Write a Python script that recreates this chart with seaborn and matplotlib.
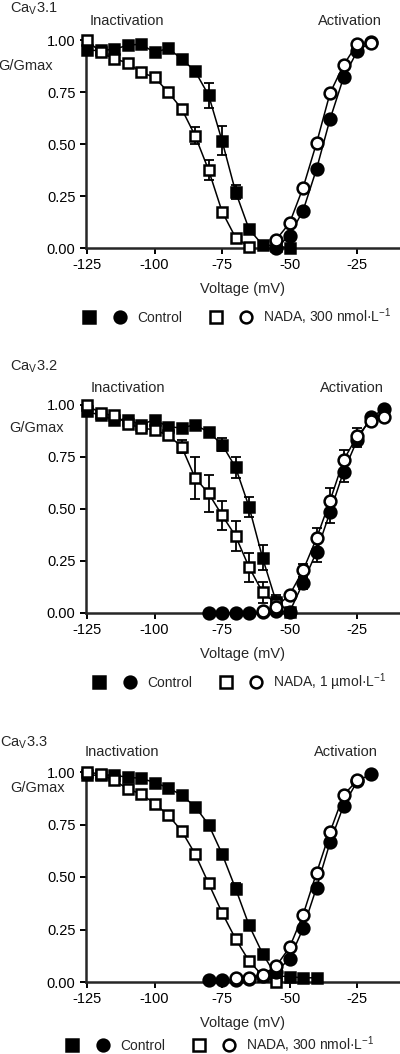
import matplotlib

matplotlib.use("Agg")
import matplotlib.pyplot as plt
import numpy as np
import pandas as pd
import seaborn as sns
from matplotlib.legend_handler import HandlerTuple
from matplotlib.lines import Line2D
from matplotlib.ticker import FormatStrFormatter

# ---------------- data (G/Gmax) ----------------
# Cav3.1
v_inact_31_ctrl = list(range(-125, -45, 5))
g_inact_31_ctrl = [0.95, 0.95, 0.955, 0.975, 0.98, 0.94, 0.96, 0.91, 0.85,
                   0.735, 0.515, 0.27, 0.09, 0.015, 0.01, 0.0]
e_inact_31_ctrl = [0, 0, 0, 0, 0, 0, 0, 0, 0, 0.06, 0.07, 0.035, 0, 0, 0, 0]
v_inact_31_nada = list(range(-125, -60, 5))
g_inact_31_nada = [1.0, 0.94, 0.91, 0.89, 0.845, 0.82, 0.75, 0.67, 0.54,
                   0.375, 0.175, 0.05, 0.005]
e_inact_31_nada = [0, 0, 0, 0, 0, 0, 0, 0, 0.04, 0.05, 0, 0, 0]
v_act_31_ctrl = list(range(-55, -15, 5))
g_act_31_ctrl = [0.0, 0.06, 0.18, 0.38, 0.62, 0.82, 0.945, 0.99]
v_act_31_nada = list(range(-55, -15, 5))
g_act_31_nada = [0.04, 0.12, 0.29, 0.505, 0.745, 0.88, 0.98, 0.985]

# Cav3.2
v_inact_32_ctrl = list(range(-125, -45, 5))
g_inact_32_ctrl = [0.97, 0.95, 0.93, 0.93, 0.905, 0.93, 0.895, 0.89, 0.905,
                   0.87, 0.81, 0.70, 0.51, 0.265, 0.055, 0.005]
e_inact_32_ctrl = [0, 0, 0, 0, 0, 0, 0, 0, 0, 0, 0.03, 0.05, 0.05, 0.06, 0.03, 0]
v_inact_32_nada = list(range(-125, -50, 5))
g_inact_32_nada = [1.0, 0.96, 0.95, 0.91, 0.89, 0.88, 0.855, 0.80, 0.65,
                   0.575, 0.47, 0.37, 0.22, 0.10, 0.045]
e_inact_32_nada = [0, 0, 0, 0, 0, 0, 0, 0.03, 0.10, 0.09, 0.07, 0.07, 0.07,
                   0.05, 0.03]
v_act_32_ctrl = list(range(-80, -10, 5))
g_act_32_ctrl = [0.0, 0.0, 0.0, 0.0, 0.005, 0.01, 0.005, 0.145, 0.295, 0.485,
                 0.68, 0.83, 0.94, 0.98]
e_act_32_ctrl = [0, 0, 0, 0, 0, 0, 0, 0.03, 0.05, 0.05, 0.05, 0.03, 0, 0]
v_act_32_nada = list(range(-60, -10, 5))
g_act_32_nada = [0.01, 0.03, 0.087, 0.205, 0.36, 0.54, 0.735, 0.85, 0.925, 0.94]
e_act_32_nada = [0, 0, 0, 0.03, 0.05, 0.06, 0.05, 0.04, 0, 0]

# Cav3.3
v_inact_33_ctrl = list(range(-125, -35, 5))
g_inact_33_ctrl = [0.985, 0.985, 0.985, 0.975, 0.97, 0.95, 0.925, 0.89, 0.835,
                   0.75, 0.61, 0.445, 0.27, 0.135, 0.03, 0.025, 0.02, 0.02]
e_inact_33_ctrl = [0, 0, 0, 0, 0, 0, 0, 0, 0, 0, 0.02, 0.025, 0, 0, 0, 0, 0, 0]
v_inact_33_nada = list(range(-125, -50, 5))
g_inact_33_nada = [1.0, 0.99, 0.96, 0.92, 0.895, 0.85, 0.795, 0.72, 0.61,
                   0.47, 0.33, 0.205, 0.10, 0.03, 0.0]
e_inact_33_nada = [0, 0, 0, 0, 0, 0, 0, 0, 0, 0.02, 0.02, 0, 0, 0, 0]
v_act_33_ctrl = list(range(-80, -15, 5))
g_act_33_ctrl = [0.01, 0.01, 0.01, 0.015, 0.03, 0.05, 0.11, 0.255, 0.45,
                 0.665, 0.84, 0.955, 0.99]
v_act_33_nada = list(range(-70, -20, 5))
g_act_33_nada = [0.02, 0.02, 0.035, 0.075, 0.165, 0.32, 0.52, 0.715, 0.89, 0.96]

x_ticks = [-125, -100, -75, -50, -25]
y_ticks = [0.0, 0.25, 0.5, 0.75, 1.0]

# ---------------- style ----------------
sns.set_style("ticks")
plt.rcParams["font.family"] = ["Liberation Sans", "DejaVu Sans"]
plt.rcParams["mathtext.fontset"] = "custom"
plt.rcParams["mathtext.rm"] = "Liberation Sans"
plt.rcParams["mathtext.it"] = "Liberation Sans:italic"
plt.rcParams["axes.unicode_minus"] = False
FS = 10.5
LEG_FS = 10
plt.rcParams["font.size"] = FS

W, H = 400, 1054
fig = plt.figure(figsize=(W / 100, H / 100), dpi=100)


def fx(px):
    return px / W


def fy(py):
    return 1 - py / H


def draw_series(ax, v, g, err, marker, filled, z):
    df = pd.DataFrame({"v": v, "g": g})
    if err is not None:
        e = np.array(err, dtype=float)
        m = e > 0
        ax.errorbar(np.array(v)[m], np.array(g)[m], yerr=e[m], fmt="none",
                    ecolor="black", elinewidth=1.3, capsize=3.5, capthick=1.3,
                    zorder=z - 1, clip_on=False)
    sns.lineplot(data=df, x="v", y="g", ax=ax, color="black", lw=1.1,
                 marker=marker, markersize=7.5 if marker == "s" else 8.5,
                 markerfacecolor="black" if filled else "white",
                 markeredgecolor="black", markeredgewidth=1.8,
                 clip_on=False, zorder=z)


panels = [
    dict(name="Ca$_\\mathregular{V}$3.1", top=40, bottom=248, title_xy=(10, 13),
         head_y=21, gg_xy=(53, 66), inact_x=127, act_x=350, leg_xy=(74, 317),
         conc="NADA, 300 nmol·L$^{-1}$",
         data=[(v_inact_31_ctrl, g_inact_31_ctrl, e_inact_31_ctrl, "s", True),
               (v_inact_31_nada, g_inact_31_nada, e_inact_31_nada, "s", False),
               (v_act_31_ctrl, g_act_31_ctrl, None, "o", True),
               (v_act_31_nada, g_act_31_nada, None, "o", False)]),
    dict(name="Ca$_\\mathregular{V}$3.2", top=405, bottom=613, title_xy=(10, 371),
         head_y=388, gg_xy=(64, 428), inact_x=128, act_x=352, leg_xy=(84, 682),
         conc="NADA, 1 µmol·L$^{-1}$",
         data=[(v_inact_32_ctrl, g_inact_32_ctrl, e_inact_32_ctrl, "s", True),
               (v_inact_32_nada, g_inact_32_nada, e_inact_32_nada, "s", False),
               (v_act_32_ctrl, g_act_32_ctrl, e_act_32_ctrl, "o", True),
               (v_act_32_nada, g_act_32_nada, e_act_32_nada, "o", False)]),
    dict(name="Ca$_\\mathregular{V}$3.3", top=772, bottom=982, title_xy=(0, 747),
         head_y=752, gg_xy=(65, 788), inact_x=122, act_x=346, leg_xy=(57, 1045),
         conc="NADA, 300 nmol·L$^{-1}$",
         data=[(v_inact_33_ctrl, g_inact_33_ctrl, e_inact_33_ctrl, "s", True),
               (v_inact_33_nada, g_inact_33_nada, e_inact_33_nada, "s", False),
               (v_act_33_ctrl, g_act_33_ctrl, None, "o", True),
               (v_act_33_nada, g_act_33_nada, None, "o", False)]),
]

for p in panels:
    left, right = 86, 400
    ax = fig.add_axes([fx(left), fy(p["bottom"]), (right - left) / W,
                       (p["bottom"] - p["top"]) / H])
    for i, (v, g, e, mk, filled) in enumerate(p["data"]):
        draw_series(ax, v, g, e, mk, filled, z=3 + 2 * i)

    ax.set_xlim(-125.4, -9.1)
    ax.set_ylim(0, 1.0)
    ax.set_xticks(x_ticks)
    ax.set_yticks(y_ticks)
    ax.yaxis.set_major_formatter(FormatStrFormatter("%.2f"))
    ax.set_xlabel("Voltage (mV)", fontsize=FS, labelpad=7)
    ax.set_ylabel("")
    sns.despine(ax=ax)
    for s in ["left", "bottom"]:
        ax.spines[s].set_linewidth(1.8)
        ax.spines[s].set_zorder(2)
    ax.tick_params(direction="out", length=4.5, width=1.4, pad=3,
                   labelsize=FS, colors="black")
    ax.patch.set_alpha(0)

    fig.text(fx(p["title_xy"][0]), fy(p["title_xy"][1]), p["name"],
             fontsize=FS, ha="left", va="baseline")
    fig.text(fx(p["inact_x"]), fy(p["head_y"]), "Inactivation", fontsize=FS,
             ha="center", va="center")
    fig.text(fx(p["act_x"]), fy(p["head_y"]), "Activation", fontsize=FS,
             ha="center", va="center")
    fig.text(fx(p["gg_xy"][0]), fy(p["gg_xy"][1]), "G/Gmax", fontsize=FS,
             ha="right", va="center")

    mk = dict(linestyle="none", markeredgecolor="black", markeredgewidth=1.8,
              markersize=8.5)
    h_ctrl = (Line2D([], [], marker="s", markerfacecolor="black", **mk),
              Line2D([], [], marker="o", markerfacecolor="black", **mk))
    h_nada = (Line2D([], [], marker="s", markerfacecolor="white", **mk),
              Line2D([], [], marker="o", markerfacecolor="white", **mk))
    ax.legend([h_ctrl, h_nada], ["Control", p["conc"]], ncol=2,
              loc="center left",
              bbox_to_anchor=(fx(p["leg_xy"][0]), fy(p["leg_xy"][1])),
              bbox_transform=fig.transFigure, frameon=False, fontsize=LEG_FS,
              borderpad=0, borderaxespad=0, handlelength=4.4,
              handletextpad=0.15, columnspacing=1.3,
              handler_map={tuple: HandlerTuple(ndivide=None, pad=0)})

fig.savefig("out.png", dpi=100)
